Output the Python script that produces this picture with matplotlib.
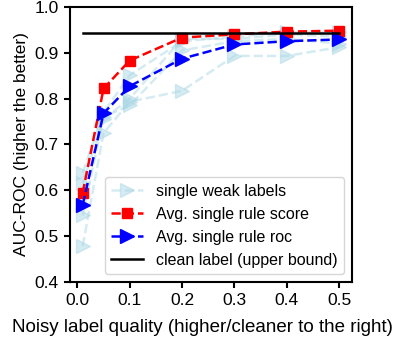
import numpy as np
import matplotlib
matplotlib.use("Agg")
import matplotlib.pyplot as plt

plt.rcParams['font.family'] = ['Liberation Sans', 'DejaVu Sans']

quality = [0.01, 0.05, 0.1, 0.2, 0.3, 0.4, 0.5]

# individual weak label runs
single_runs = [
    [0.478, 0.725, 0.793, 0.817, 0.893, 0.893, 0.912],
    [0.638, 0.770, 0.851, 0.925, 0.935, 0.945, 0.945],
    [0.545, 0.760, 0.785, 0.905, 0.925, 0.930, 0.920],
    [0.616, 0.755, 0.800, 0.930, 0.930, 0.940, 0.935],
]
avg_score = [0.594, 0.822, 0.883, 0.933, 0.940, 0.946, 0.948]
avg_roc = [0.568, 0.768, 0.827, 0.887, 0.918, 0.925, 0.929]
clean_auc = 0.943

fig = plt.figure(figsize=(3.99, 3.43), dpi=100)
ax = fig.add_axes([0.175, 0.178, 0.707, 0.802])

lw = 1.8
for i, run in enumerate(single_runs):
    ax.plot(quality, run, '--', marker='>', color='lightblue', alpha=0.5,
            markersize=10, linewidth=lw,
            label='single weak labels' if i == 0 else None)
ax.plot(quality, avg_score, '--', marker='s', color='red', markersize=7.5,
        linewidth=lw, label='Avg. single rule score')
ax.plot(quality, avg_roc, '--', marker='>', color='blue', markersize=10.5,
        linewidth=lw, label='Avg. single rule roc')
ax.plot(quality, [clean_auc] * len(quality), '-', color='black',
        linewidth=lw, label='clean label (upper bound)')

for sp in ax.spines.values():
    sp.set_linewidth(1.5)

ax.set_ylim(0.4, 1.0)
ax.set_xticks([0.0, 0.1, 0.2, 0.3, 0.4, 0.5])
ax.set_xlabel('Noisy label quality (higher/cleaner to the right)', fontsize=13.5,
              x=0.47, labelpad=8)
ax.set_ylabel('AUC-ROC (higher the better)', fontsize=12.5)
ax.tick_params(labelsize=12.5, width=1.5, length=4.5)
ax.legend(loc='lower right', fontsize=11.5, handlelength=2.0)

fig.savefig('out.png', dpi=100)
